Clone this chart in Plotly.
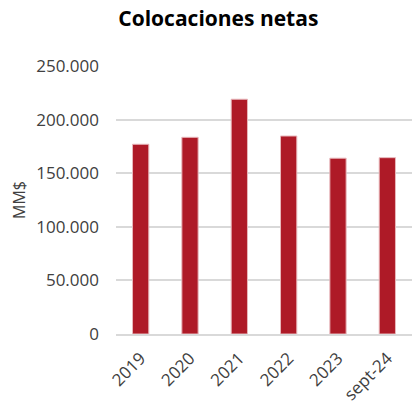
import plotly.graph_objects as go

categories = ["2019", "2020", "2021", "2022", "2023", "sept-24"]
values = [177000, 183500, 219000, 184700, 164000, 164500]
y_ticks = [0, 50000, 100000, 150000, 200000, 250000]

fig = go.Figure()
fig.add_trace(go.Bar(
    x=categories, y=values,
    marker=dict(color="#AE1A27", line=dict(color="#E8B8BC", width=1)),
    width=0.33,
))

fig.update_layout(
    width=412, height=405,
    margin=dict(l=116, r=0, t=66, b=71),
    paper_bgcolor="white", plot_bgcolor="white",
    separators=",.",
    font=dict(family="Open Sans", size=17, color="#404040"),
    title=dict(text="<b>Colocaciones netas</b>", x=0.53, xanchor="center",
               y=0.955, yanchor="middle",
               font=dict(family="Open Sans", size=21, color="#000000")),
    showlegend=False,
    bargap=0.67,
)
fig.update_yaxes(
    range=[0, 250000], tickvals=y_ticks, tickformat=",d",
    showgrid=True, gridcolor="#D9D9D9", gridwidth=1.5,
    zeroline=False, showline=False,
    ticks="", ticklabelstandoff=16,
    title=dict(text="MM$", standoff=6, font=dict(size=16, color="#404040")),
)
fig.update_xaxes(
    tickangle=-45, showline=True, linecolor="#D9D9D9", linewidth=1.5,
    ticks="", showgrid=False, ticklabelstandoff=6,
)

fig.write_html("out.html")
